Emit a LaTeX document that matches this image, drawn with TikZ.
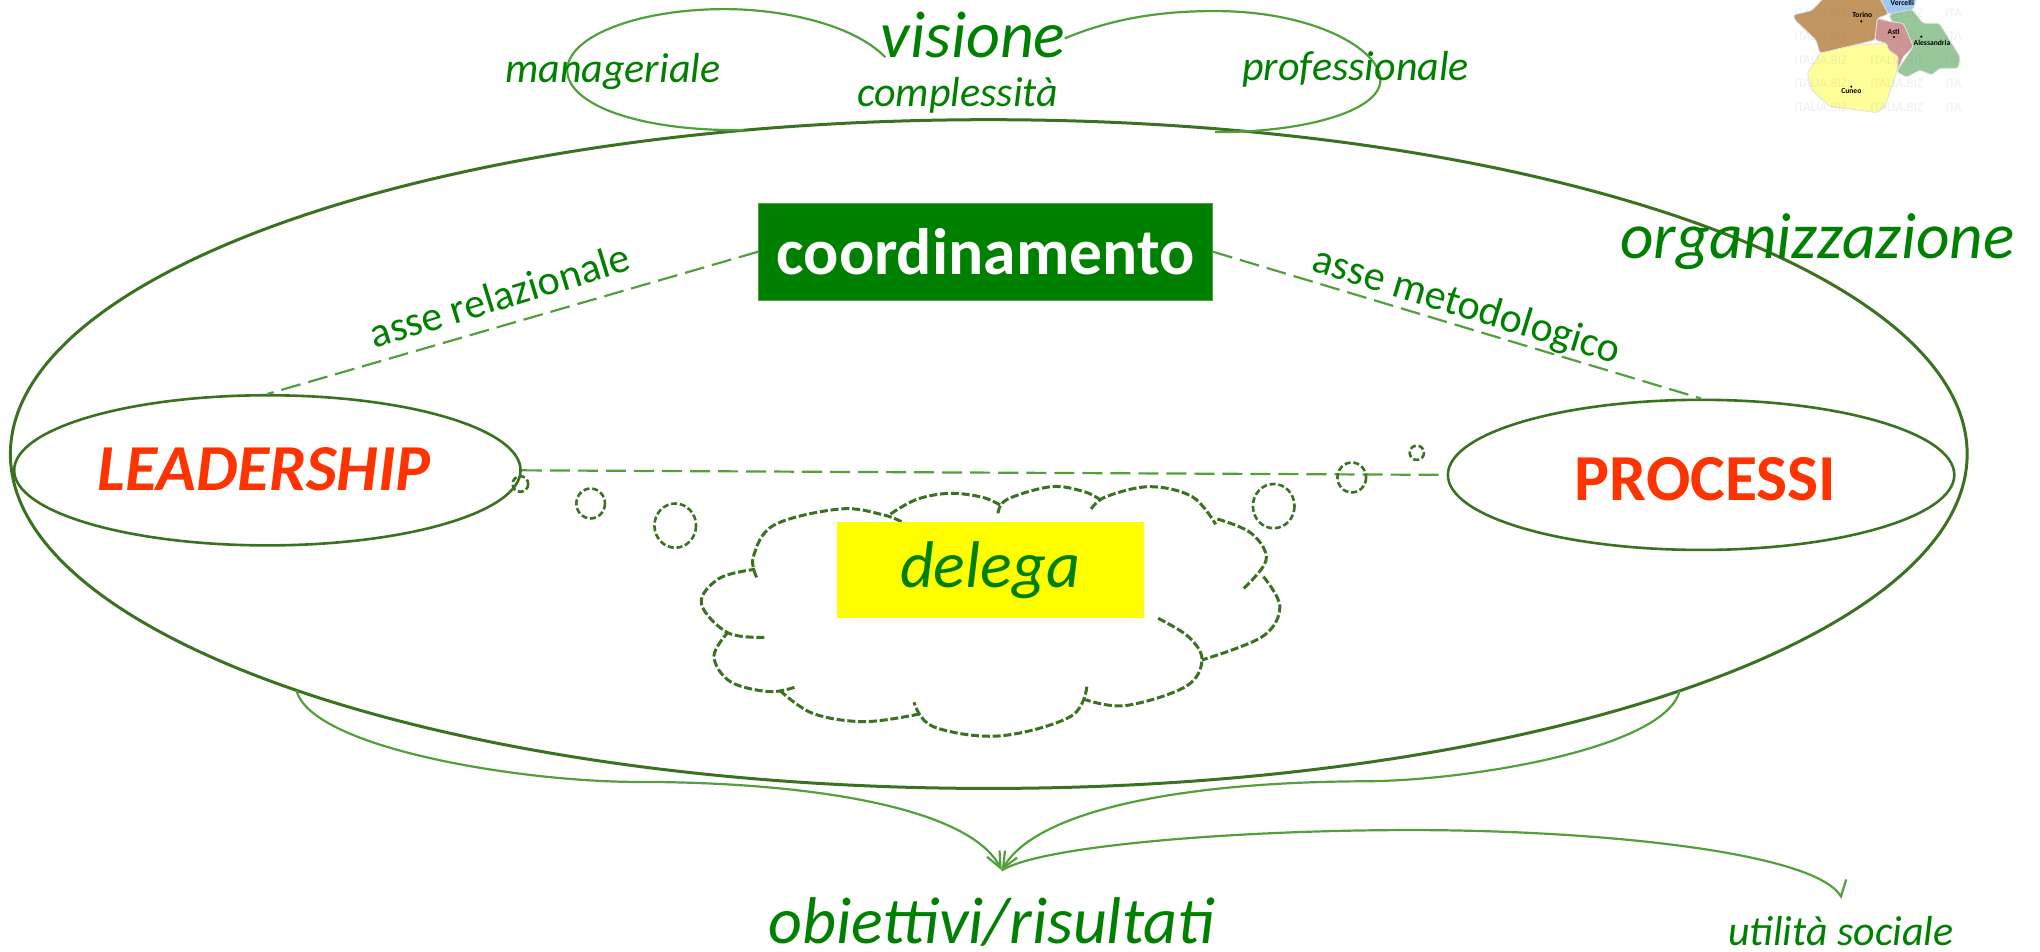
\documentclass[tikz,border=0pt]{standalone}
\usepackage{fontspec}
\setmainfont{Carlito}
\usetikzlibrary{shapes.geometric,arrows.meta}
\definecolor{txtgreen}{HTML}{008000}
\definecolor{darkline}{HTML}{3B7222}
\definecolor{lightline}{HTML}{539F3C}
\definecolor{hot}{HTML}{FF3300}
\definecolor{boxyellow}{RGB}{255,255,0}
\definecolor{mapblue}{RGB}{156,201,245}
\definecolor{mapbrown}{RGB}{194,149,97}
\definecolor{mapgreen}{RGB}{152,200,154}
\definecolor{mappink}{RGB}{207,148,148}
\definecolor{mapyellow}{RGB}{255,255,153}
\newcommand{\fsz}[1]{\fontsize{#1}{#1}\selectfont}
\tikzset{
  lab/.style={text=txtgreen,inner sep=0pt},
  bigring/.style={draw=darkline,line width=1.5pt,ellipse,inner sep=0pt,minimum width=977.6pt,minimum height=334.1pt},
  pole/.style={draw=darkline,line width=1.3pt,ellipse,inner sep=0pt,minimum width=253pt,minimum height=75pt},
  poletext/.style={text=hot,inner sep=0pt,font=\fsz{32.8}\bfseries},
  axis line/.style={draw=lightline,line width=1.1pt,dash pattern=on 10pt off 4pt},
  thin loop/.style={draw=lightline,line width=1.1pt},
  cloud line/.style={draw=darkline,line width=1.5pt,dash pattern=on 4pt off 1.4pt},
  puff/.style={draw=darkline,line width=1.3pt,dash pattern=on 3pt off 1.4pt},
  tipped/.style={thin loop,-{Straight Barb[length=8pt,width=7pt]}},
  mark text/.style={font=\fsz{3.8}\bfseries,text=black,inner sep=0pt},
  wm/.style={font=\fsz{6.6},text=gray,opacity=.13,inner sep=0pt,anchor=west},
  region/.style={draw=white!75!gray,line width=.4pt,rounded corners=1.2pt}
}
\begin{document}
\begin{tikzpicture}[x=.65pt,y=-.65pt]
\useasboundingbox (0,0) rectangle (1568,731);
% map
\begin{scope}[shift={(1337.4,0)},x=.1665pt,y=-.1665pt]
\clip (0,0) rectangle (700,400);
\path[region,fill=mapblue] (420,-5)--(530,-5)--(520,28)--(450,42)--(435,30)--cycle;
\path[region,fill=mapbrown] (250,-5)--(420,-5)--(445,42)--(412,55)--(405,120)--(345,135)--(240,160)--(228,120)--(165,60)--(160,45)--(215,32)--cycle;
\path[region,fill=mapgreen] (448,42)--(515,28)--(550,70)--(598,70)--(660,170)--(655,205)--(600,205)--(575,225)--(540,210)--(500,232)--(470,215)--(520,140)--(490,70)--(455,65)--cycle;
\path[region,fill=mappink] (412,55)--(450,65)--(490,70)--(520,140)--(490,170)--(470,215)--(475,170)--(445,150)--(440,130)--(405,120)--cycle;
\path[region,fill=mapyellow] (240,160)--(345,135)--(440,130)--(445,150)--(475,170)--(470,215)--(435,320)--(410,338)--(355,330)--(270,320)--(215,270)--(202,220)--cycle;
\foreach \px/\py in {364/64,462/111,544/110,334/260}{\fill[black] (\px,\py) circle (3.5);}
\node[mark text] (vercelli) at (487,10) {Vercelli};
\node[mark text] (torino) at (367,46) {Torino};
\node[mark text] (asti) at (461,95) {Asti};
\node[mark text] (alessandria) at (576,128) {Alessandria};
\node[mark text] (cuneo) at (334,274) {Cuneo};
\foreach \wy in {40,110,182,250,322}{
  \node[wm] at (162,\wy) {ITALIA.BIZ};
  \node[wm] at (390,\wy) {ITALIA.BIZ};
  \node[wm] at (615,\wy) {ITA};
}
\end{scope}
% big ring
\node[bigring] (org) at (760,349) {};
% top loops
\coordinate (visL) at (680.5,44);
\coordinate (visR) at (818.4,29.5);
\draw[thin loop] (visL) .. controls (655,18) and (600,7) .. (557,7) .. controls (490,7) and (436,28) .. (436,54) .. controls (436,80) and (490,101) .. (572,100);
\draw[thin loop] (visR) .. controls (860,12) and (900,8.5) .. (934,8.5) .. controls (1010,8.5) and (1061,38) .. (1061,61.5) .. controls (1061,86) and (1000,102) .. (934,101.5);
% poles
\node[pole] (lead) at (205.5,361.5) {};
\node[pole] (proc) at (1307.5,365) {};
\node[poletext,font=\fsz{32.8}\bfseries\itshape] (leadt) at (203,361) {LEADERSHIP};
\node[poletext] (proct) at (1311,368) {PROCESSI};
\node[draw=lightline,fill=txtgreen,text=white,font=\fsz{32.8}\bfseries,inner sep=0pt,minimum width=226.9pt,minimum height=48.75pt] (coord) at (757.5,193.5) {coordinamento};
% axes
\draw[axis line] (coord.west) -- (lead.north);
\draw[axis line] (coord.east) -- (proc.north);
\draw[axis line] (lead.east) -- (proc.west);
% thought puffs
\draw[puff] (400,372) ellipse (6 and 6);
\draw[puff] (454,387) ellipse (11 and 11.5);
\draw[puff] (519,404) ellipse (16 and 17);
\draw[puff] (979,389) ellipse (16 and 17);
\draw[puff] (1039,367) ellipse (11 and 11.5);
\draw[puff] (1089,348) ellipse (5.5 and 5.5);
% cloud
\begin{scope}[shift={(384.3,338.2)},x=.274pt,y=-.1665pt]
\draw[cloud line] plot[smooth,tension=.6] coordinates {(468,412) (462,350) (500,255) (620,207) (700,225) (740,252)};
\draw[cloud line] plot[smooth,tension=.6] coordinates {(712,222) (760,178) (820,160) (880,172) (915,198)};
\draw[cloud line] plot[smooth,tension=.6] coordinates {(908,220) (925,178) (1005,140) (1065,155) (1095,180)};
\draw[cloud line] plot[smooth,tension=.6] coordinates {(1078,207) (1105,170) (1185,140) (1262,170) (1305,253)};
\draw[cloud line] plot[smooth,tension=.6] coordinates {(1308,237) (1370,280) (1397,360) (1353,450)};
\draw[cloud line] plot[smooth,tension=.6] coordinates {(1392,410) (1422,500) (1390,590) (1280,660)};
\draw[cloud line] plot[smooth,tension=.6] coordinates {(1200,535) (1255,590) (1280,660) (1250,740) (1140,797) (1065,778)};
\draw[cloud line] plot[smooth,tension=.6] coordinates {(1070,740) (1040,830) (910,888) (790,860) (755,787)};
\draw[cloud line] plot[smooth,tension=.6] coordinates {(765,822) (665,845) (570,820) (508,748)};
\draw[cloud line] plot[smooth,tension=.6] coordinates {(537,742) (490,755) (420,725) (390,650) (415,578)};
\draw[cloud line] plot[smooth,tension=.6] coordinates {(482,592) (415,578) (367,490) (400,415) (465,388)};
\end{scope}
\node[fill=boxyellow,text=txtgreen,font=\fsz{33}\itshape,inner sep=0pt,minimum width=153.4pt,minimum height=48.1pt] (delega) at (761,438) {delega};
% bottom connectors
\coordinate (obtip) at (770,669);
\coordinate (socialtip) at (1415,689);
\coordinate (ringL) at (228,531);
\coordinate (ringR) at (1291,531);
\draw[tipped] (ringL) .. controls (240,575) and (400,601) .. (490,601) .. controls (620,601) and (745,620) .. (obtip);
\draw[tipped] (ringR) .. controls (1280,575) and (1130,600) .. (1050,600.5) .. controls (900,601) and (795,625) .. (obtip);
\draw[thin loop] (obtip) .. controls (800,650) and (950,638) .. (1084,638) .. controls (1230,638) and (1395,655) .. (socialtip) -- (1419,676);
% labels
\node[lab,font=\fsz{33}\itshape] (visione) at (748,27) {visione};
\node[lab,font=\fsz{21}\itshape] (manag) at (471,55) {manageriale};
\node[lab,font=\fsz{21}\itshape] (compl) at (736,73) {complessità};
\node[lab,font=\fsz{21}\itshape] (prof) at (1042,53) {professionale};
\node[lab,font=\fsz{32.6}\itshape] (orgl) at (1397,186) {organizzazione};
\node[lab,font=\fsz{21},rotate=17] (rel) at (384,227) {asse relazionale};
\node[lab,font=\fsz{21},rotate=-17] (met) at (1127,236) {asse metodologico};
\node[lab,font=\fsz{33}\itshape] (obi) at (762,709) {obiettivi/risultati};
\node[lab,font=\fsz{21}\itshape] (soc) at (1415,716) {utilità sociale};
\end{tikzpicture}
\end{document}
